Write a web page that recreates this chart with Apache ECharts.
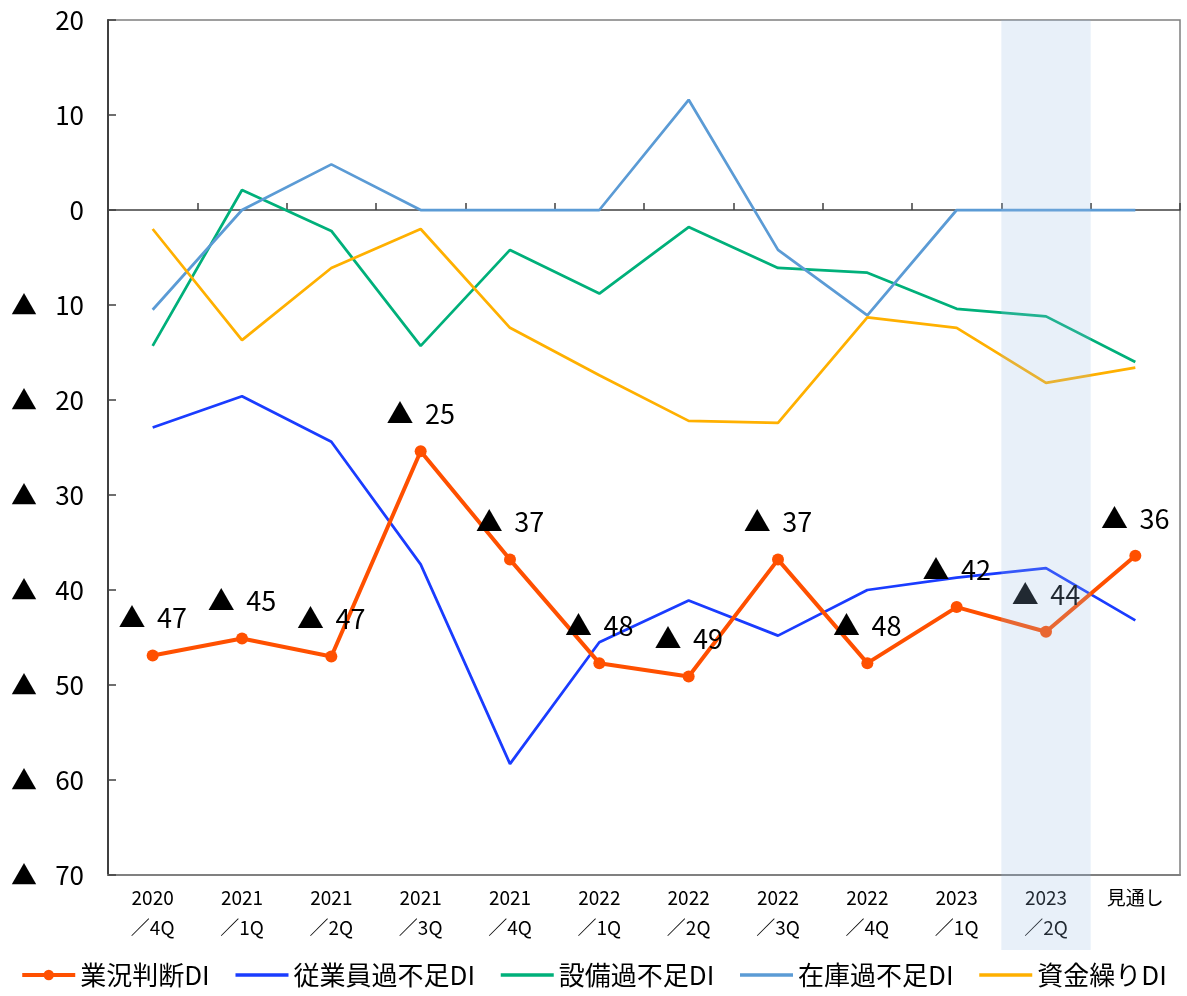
<!DOCTYPE html>
<html><head><meta charset="utf-8">
<script src="https://cdn.jsdelivr.net/npm/echarts@6/dist/echarts.min.js"></script>
<style>html,body{margin:0;padding:0;background:#fff}#c{width:1187px;height:996px}</style>
</head><body><div id="c"></div>
<script>
const categories = ['2020\n／4Q','2021\n／1Q','2021\n／2Q','2021\n／3Q','2021\n／4Q','2022\n／1Q','2022\n／2Q','2022\n／3Q','2022\n／4Q','2023\n／1Q','2023\n／2Q','見通し'];
const gyokyo   = [-46.9,-45.1,-47.0,-25.4,-36.8,-47.7,-49.1,-36.8,-47.7,-41.8,-44.4,-36.4];
const jugyoin  = [-22.9,-19.6,-24.4,-37.3,-58.3,-45.5,-41.1,-44.8,-40.0,-38.7,-37.7,-43.2];
const setsubi  = [-14.3,2.1,-2.2,-14.3,-4.2,-8.8,-1.8,-6.1,-6.6,-10.4,-11.2,-16.0];
const zaiko    = [-10.5,0,4.8,0,0,0,11.6,-4.2,-11.1,0,0,0];
const shikin   = [-2.0,-13.7,-6.1,-2.0,-12.4,-17.4,-22.2,-22.4,-11.3,-12.4,-18.2,-16.6];
const seriesNames = ['業況判断DI','従業員過不足DI','設備過不足DI','在庫過不足DI','資金繰りDI'];
const highlightCategory = '2023\n／2Q';

const FONT = '"Noto Sans CJK JP", "Noto Sans", sans-serif';
const TRI_AXIS = '▲\u2002\u2009';
const TRI_LABEL = '▲ \u2009';
const fmtY = v => v < 0 ? TRI_AXIS + (-v) : String(v);

const chart = echarts.init(document.getElementById('c'), null, {renderer:'canvas'});
const thin = (name, data, color) => ({
  name, type:'line', data, symbol:'none', smooth:false,
  lineStyle:{color, width:2.75}, itemStyle:{color}, z:2
});
const option = {
  animation:false,
  textStyle:{fontFamily:FONT},
  grid:{left:108, right:7, top:20, bottom:121, show:true, borderColor:'#7f7f7f', borderWidth:1.5, containLabel:false},
  legend:{
    bottom:3, left:'center', itemWidth:53, itemHeight:13, itemGap:24,
    textStyle:{fontSize:26, color:'#000', fontFamily:FONT},
    data:[
      {name:seriesNames[0], lineStyle:{width:4}},
      {name:seriesNames[1], itemStyle:{opacity:0}, lineStyle:{width:3.5}},
      {name:seriesNames[2], itemStyle:{opacity:0}, lineStyle:{width:3.5}},
      {name:seriesNames[3], itemStyle:{opacity:0}, lineStyle:{width:3.5}},
      {name:seriesNames[4], itemStyle:{opacity:0}, lineStyle:{width:3.5}}
    ]
  },
  xAxis:[{
    type:'category', data:categories, position:'bottom',
    axisLine:{onZero:false, lineStyle:{color:'#808080', width:2}},
    axisTick:{show:false},
    axisLabel:{fontSize:19, color:'#000', lineHeight:30, margin:8, fontFamily:FONT, interval:0},
    splitLine:{show:false}
  },{
    type:'category', data:categories, position:'bottom',
    axisLine:{onZero:true, onZeroAxisIndex:0, lineStyle:{color:'#404040', width:1.5}},
    axisTick:{show:true, inside:true, length:7, lineStyle:{color:'#404040', width:1.5}},
    axisLabel:{show:false}, splitLine:{show:false}
  }],
  yAxis:{
    type:'value', min:-70, max:20, interval:10,
    axisLine:{show:true, lineStyle:{color:'#404040', width:2}},
    axisTick:{show:true, inside:true, length:8, lineStyle:{color:'#404040', width:1.5}},
    axisLabel:{fontSize:26, color:'#000', margin:24, formatter:fmtY, fontFamily:FONT},
    splitLine:{show:false}
  },
  series:[
    {
      name:seriesNames[0], type:'line', data:gyokyo, xAxisIndex:0,
      symbol:'circle', symbolSize:12,
      lineStyle:{color:'#FF5000', width:4}, itemStyle:{color:'#FF5000'}, z:5,
      label:{show:true, position:'top', distance:18, fontSize:27, color:'#000', fontFamily:FONT,
        formatter:p => TRI_LABEL + Math.round(-p.value)}
    },
    thin(seriesNames[1], jugyoin, '#1A3CFF'),
    thin(seriesNames[2], setsubi, '#00B07A'),
    thin(seriesNames[3], zaiko, '#5B9BD5'),
    thin(seriesNames[4], shikin, '#FFB000')
  ]
};
chart.setOption(option);

// highlight band over the 2023/2Q category (drawn on top, semi-transparent)
const idx = categories.indexOf(highlightCategory);
const cx = chart.convertToPixel({xAxisIndex:0}, idx);
const cx2 = chart.convertToPixel({xAxisIndex:0}, idx+1);
const step = cx2 - cx;
const yTop = chart.convertToPixel({yAxisIndex:0}, 20);
const yBot = chart.convertToPixel({yAxisIndex:0}, -70);
chart.setOption({graphic:[{
  type:'rect', z:100, silent:true,
  shape:{x:cx - step/2, y:yTop, width:step, height:(yBot - yTop) + 75},
  style:{fill:'rgba(152,187,228,0.22)'}
}]});
</script></body></html>
